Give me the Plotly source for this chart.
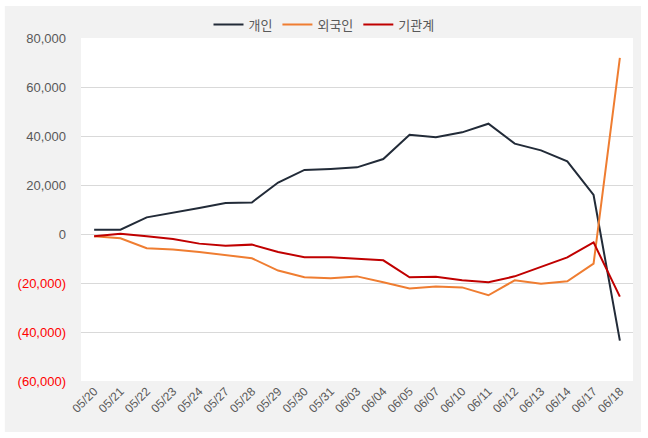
import plotly.graph_objects as go

DATES = ["05/20", "05/21", "05/22", "05/23", "05/24", "05/27", "05/28", "05/29",
         "05/30", "05/31", "06/03", "06/04", "06/05", "06/07", "06/10", "06/11",
         "06/12", "06/13", "06/14", "06/17", "06/18"]

INDIVIDUAL = [1760, 1760, 6780, 8540, 10580, 12610, 12880, 21020, 26170, 26580, 27200,
              30600, 40540, 39460, 41500, 45030, 36870, 34150, 29660, 15920, -43540]
FOREIGN = [-950, -1760, -5830, -6370, -7320, -8540, -9900, -14920, -17630, -18030, -17300,
           -19730, -22200, -21400, -21800, -25000, -18900, -20300, -19300, -12100, 71840]
INSTITUTION = [-950, 140, -950, -2030, -3930, -4750, -4340, -7320, -9490, -9490, -10070,
               -10750, -17690, -17410, -18910, -19730, -17280, -13470, -9520, -3400, -25580]

SERIES = [("개인", INDIVIDUAL, "#222b38"),
          ("외국인", FOREIGN, "#ef7d31"),
          ("기관계", INSTITUTION, "#c00000")]

Y_TICKS = list(range(-60000, 80001, 20000))


def tick_text(v):
    # negatives shown in red with parentheses, accounting style
    if v < 0:
        return f"<span style='color:#ff0000'>({abs(v):,})</span>"
    return f"{v:,}"


fig = go.Figure()
for name, values, color in SERIES:
    fig.add_trace(go.Scatter(x=DATES, y=values, name=name, mode="lines",
                             line=dict(color=color, width=2)))

# light gray panel behind everything, with a thin white border around it
fig.add_shape(type="rect", xref="paper", yref="paper", layer="below",
              x0=-0.138, x1=1.0145, y0=-0.1487, y1=1.093,
              fillcolor="#f2f2f2", line_width=0)
fig.add_shape(type="rect", xref="paper", yref="paper", layer="below",
              x0=0, x1=1, y0=0, y1=1, fillcolor="white", line_width=0)

fig.update_layout(
    width=648, height=438,
    margin=dict(l=81, r=15, t=38, b=57, autoexpand=False),
    paper_bgcolor="white", plot_bgcolor="white",
    font=dict(family="Noto Sans CJK KR, Noto Sans, sans-serif", size=12, color="#595959"),
    showlegend=True,
    legend=dict(orientation="h", xref="container", x=0.5, xanchor="center",
                yref="container", y=0.944, yanchor="middle",
                bgcolor="rgba(0,0,0,0)", font=dict(size=13, color="#595959"),
                itemwidth=30, tracegroupgap=0),
)
fig.update_xaxes(type="category", range=[-0.5, len(DATES) - 0.5], tickangle=-45,
                 showgrid=False, showline=False, ticks="", automargin=False,
                 tickfont=dict(family="Liberation Sans, Arial", size=12, color="#595959"))
fig.update_yaxes(range=[-60000, 80000], tickvals=Y_TICKS, ticktext=[tick_text(v) for v in Y_TICKS],
                 showgrid=True, gridcolor="#d9d9d9", gridwidth=1, zeroline=False,
                 ticks="", ticklabelstandoff=14, automargin=False,
                 tickfont=dict(family="Liberation Sans, Arial", size=13, color="#595959"))

# drop the browser's default body margin so the figure sits at the page origin
fig.write_html("out.html", config={"displayModeBar": False},
               post_script="document.body.style.margin='0';")
